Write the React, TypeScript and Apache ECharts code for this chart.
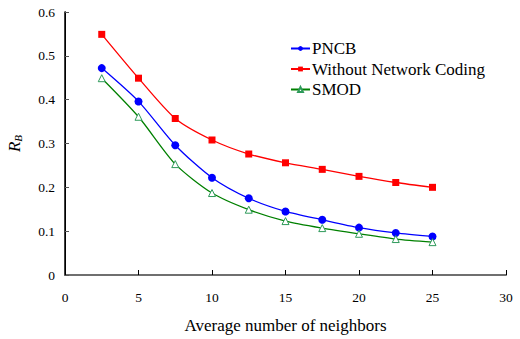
import React, { useEffect, useRef } from "react";
import * as echarts from "echarts";

const neighbors = [2.5, 5, 7.5, 10, 12.5, 15, 17.5, 20, 22.5, 25];
const pncb = [0.472, 0.396, 0.296, 0.222, 0.175, 0.145, 0.126, 0.108, 0.096, 0.088];
const withoutNC = [0.549, 0.449, 0.357, 0.308, 0.276, 0.256, 0.241, 0.225, 0.211, 0.2];
const smod = [0.449, 0.361, 0.253, 0.187, 0.149, 0.123, 0.107, 0.094, 0.082, 0.075];
const seriesNames = ["PNCB", "Without Network Coding", "SMOD"];

const FONT = "Liberation Serif, Times New Roman, serif";

export default function App() {
  const ref = useRef<HTMLDivElement>(null);
  useEffect(() => {
    if (!ref.current) return;
    const chart = echarts.init(ref.current, undefined, { renderer: "svg" });
    const pair = (ys: number[]) => neighbors.map((x, i) => [x, ys[i]]);
    chart.setOption({
      animation: false,
      backgroundColor: "#fff",
      textStyle: { fontFamily: FONT },
      grid: { left: 65, right: 14, top: 12, bottom: 64, outerBoundsMode: "none", containLabel: false },
      legend: {
        orient: "vertical",
        left: 290,
        top: 40,
        padding: 0,
        itemWidth: 19,
        itemHeight: 6,
        itemGap: 3.5,
        textStyle: { fontFamily: FONT, fontSize: 17, lineHeight: 17, color: "#000", padding: [0, 0, 0, -3] },
        data: seriesNames,
      },
      xAxis: [
        {
          type: "value",
          min: 0,
          max: 30,
          interval: 5,
          name: "Average number of neighbors",
          nameLocation: "middle",
          nameGap: 42,
          nameTextStyle: { fontFamily: FONT, fontSize: 17, color: "#000" },
          axisLine: { lineStyle: { color: "#000", width: 1.5 } },
          axisTick: { inside: true, length: 5, lineStyle: { color: "#000" } },
          axisLabel: { fontFamily: FONT, fontSize: 13.5, color: "#000", margin: 15 },
          splitLine: { show: false },
        },
        {
          type: "value",
          position: "top",
          min: 0,
          max: 30,
          axisLine: { show: true, lineStyle: { color: "#808080", width: 1.5 } },
          axisTick: { show: false },
          axisLabel: { show: false },
          splitLine: { show: false },
        },
      ],
      yAxis: [
        {
          type: "value",
          min: 0,
          max: 0.6,
          interval: 0.1,
          name: "{r|R}{b|B}",
          nameLocation: "middle",
          nameGap: 42,
          nameRotate: 90,
          nameTextStyle: {
            rich: {
              r: { fontFamily: FONT, fontSize: 17, fontStyle: "italic", color: "#000" },
              b: { fontFamily: FONT, fontSize: 11, fontStyle: "italic", color: "#000", verticalAlign: "bottom", padding: [6, 0, 0, 0] },
            },
          },
          axisLine: { show: true, lineStyle: { color: "#000", width: 1.5 } },
          axisTick: { show: true, inside: true, length: 4, lineStyle: { color: "#555" } },
          axisLabel: {
            fontFamily: FONT,
            fontSize: 13.5,
            color: "#000",
            margin: 10,
            formatter: (v: number) => (v === 0 ? "0" : v.toFixed(1)),
          },
          splitLine: { show: false },
        },
        {
          type: "value",
          position: "right",
          min: 0,
          max: 0.6,
          axisLine: { show: true, lineStyle: { color: "#000", width: 1 } },
          axisTick: { show: false },
          axisLabel: { show: false },
          splitLine: { show: false },
        },
      ],
      series: [
        {
          name: seriesNames[0],
          type: "line",
          data: pair(pncb),
          smooth: 0.25,
          symbol: "circle",
          symbolSize: 8,
          itemStyle: { color: "#0000ff" },
          lineStyle: { color: "#0000ff", width: 1.3 },
        },
        {
          name: seriesNames[1],
          type: "line",
          data: pair(withoutNC),
          smooth: 0.25,
          symbol: "rect",
          symbolSize: 7,
          itemStyle: { color: "#ff0000" },
          lineStyle: { color: "#ff0000", width: 1.3 },
        },
        {
          name: seriesNames[2],
          type: "line",
          data: pair(smod),
          smooth: 0.25,
          symbol: "triangle",
          symbolSize: 7,
          itemStyle: { color: "#fff", borderColor: "#2e9a5a", borderWidth: 1 },
          lineStyle: { color: "#008000", width: 1.3 },
        },
      ],
    });
    return () => chart.dispose();
  }, []);
  return <div ref={ref} style={{ width: 520, height: 339, position: "absolute", left: 0, top: 0 }} />;
}
